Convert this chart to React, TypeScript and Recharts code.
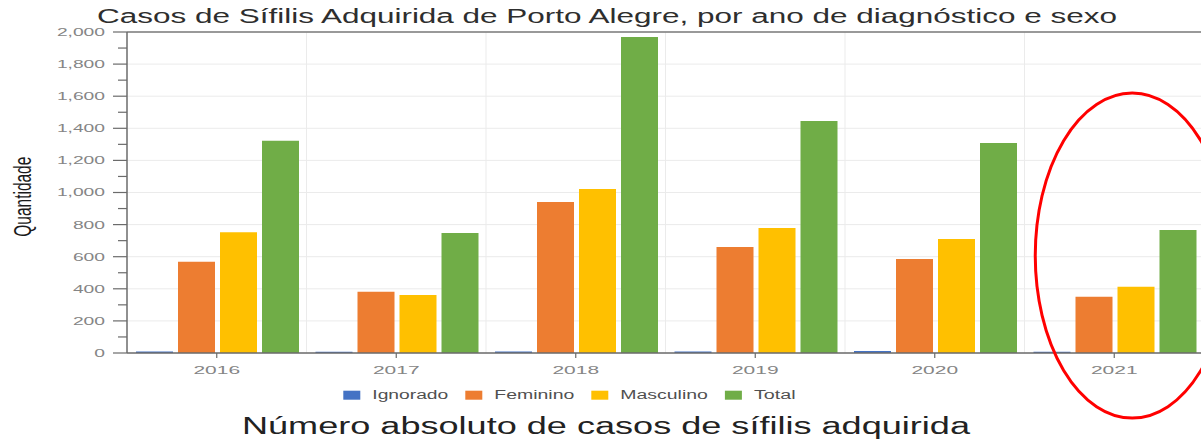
import React from 'react';
import { BarChart, Bar, XAxis, YAxis, CartesianGrid, ReferenceLine, ReferenceDot } from 'recharts';

const YEARS = ['2016', '2017', '2018', '2019', '2020', '2021'];
const IGNORADO = [9, 8, 9, 9, 12, 8];
const FEMININO = [569, 382, 941, 660, 586, 351];
const MASCULINO = [752, 361, 1022, 779, 710, 413];
const TOTAL = [1323, 748, 1969, 1445, 1308, 766];
const SERIES_NAMES = ['Ignorado', 'Feminino', 'Masculino', 'Total'];
const Y_MAX = 2000;
const Y_TICKS = [0, 100, 200, 300, 400, 500, 600, 700, 800, 900, 1000, 1100, 1200, 1300, 1400, 1500, 1600, 1700, 1800, 1900, 2000];
const MAJOR_TICKS = [0, 200, 400, 600, 800, 1000, 1200, 1400, 1600, 1800, 2000];
const TITLE = 'Casos de Sífilis Adquirida de Porto Alegre, por ano de diagnóstico e sexo';
const CAPTION = 'Número absoluto de casos de sífilis adquirida';
const Y_LABEL = 'Quantidade';
const HIGHLIGHT_YEAR = '2021';
const HIGHLIGHT_VALUE = 607;

const COLORS = ['#4472C4', '#ED7D31', '#FFC000', '#70AD47'];
const KEYS = ['ignorado', 'feminino', 'masculino', 'total'];
const LEGEND_TEXT_W = [76, 80, 87.6, 41.7];
const FONT = '"Liberation Sans", Arial, sans-serif';

const data = YEARS.map((y, i) => ({
  year: y,
  ignorado: IGNORADO[i],
  feminino: FEMININO[i],
  masculino: MASCULINO[i],
  total: TOTAL[i],
}));

const YTick = (props: any) => {
  const { x, y, payload } = props;
  const v = payload.value as number;
  const major = v % 200 === 0;
  return (
    <g>
      <line x1={x - (major ? 14 : 9)} x2={x} y1={y} y2={y} stroke="#6b6b6b" strokeWidth={1.2} />
      {major && (
        <g transform={`translate(${x - 22},${y + 3.9}) scale(1.75,1)`}>
          <text textAnchor="end" fontSize={11} fill="#858585" fontFamily={FONT}>
            {v.toLocaleString('en-US')}
          </text>
        </g>
      )}
    </g>
  );
};

const XTick = (props: any) => {
  const { x, y, payload } = props;
  return (
    <g>
      <line x1={x} x2={x} y1={y} y2={y + 5} stroke="#6b6b6b" strokeWidth={1.2} />
      <g transform={`translate(${x},${y + 21}) scale(2,1)`}>
        <text textAnchor="middle" fontSize={10.5} fill="#858585" fontFamily={FONT}>
          {payload.value}
        </text>
      </g>
    </g>
  );
};

const EllipseShape = (props: any) => {
  const { cx, cy } = props;
  if (cx == null || cy == null) return null;
  return <ellipse cx={cx + 18} cy={cy} rx={97} ry={162.5} fill="none" stroke="#ff0000" strokeWidth={3} />;
};

export default function App() {
  const n = YEARS.length;
  let lx = 343.3;
  const legendItems = SERIES_NAMES.map((name, i) => {
    const sx = lx;
    const tx = sx + 17 + 12;
    lx = tx + LEGEND_TEXT_W[i] + 17;
    return (
      <g key={name}>
        <rect x={sx} y={390.7} width={17} height={9} fill={COLORS[i]} />
        <text x={tx} y={399} fontSize={12.5} fill="#505050" fontFamily={FONT} textLength={LEGEND_TEXT_W[i]} lengthAdjust="spacingAndGlyphs">
          {name}
        </text>
      </g>
    );
  });

  return (
    <div style={{ position: 'fixed', left: 0, top: 0, width: 1201, height: 440, overflow: 'hidden', background: '#fff' }}>
      <BarChart
        width={1210}
        height={440}
        data={data}
        margin={{ top: 32, right: 6, bottom: 57, left: 0 }}
        barCategoryGap={9}
        barGap={5}
      >
        <CartesianGrid
          stroke="#ebebeb"
          horizontalCoordinatesGenerator={(p: any) =>
            MAJOR_TICKS.map((v) => p.offset.top + p.offset.height * (1 - v / Y_MAX))
          }
          verticalCoordinatesGenerator={(p: any) =>
            YEARS.map((_, i) => p.offset.left + ((i + 1) * p.offset.width) / n)
          }
        />
        <XAxis
          dataKey="year"
          interval={0}
          height={30}
          tickSize={0}
          tickMargin={0}
          tickLine={false}
          axisLine={{ stroke: '#6b6b6b', strokeWidth: 1.5 }}
          tick={(p: any) => <XTick {...p} />}
        />
        <YAxis
          type="number"
          domain={[0, Y_MAX]}
          ticks={Y_TICKS}
          interval={0}
          width={127}
          tickSize={0}
          tickMargin={0}
          tickLine={false}
          axisLine={{ stroke: '#6b6b6b', strokeWidth: 1.5 }}
          tick={(p: any) => <YTick {...p} />}
        />
        <ReferenceLine y={Y_MAX} stroke="#7a7a7a" strokeWidth={1.5} />
        {KEYS.map((k, i) => (
          <Bar key={k} dataKey={k} name={SERIES_NAMES[i]} fill={COLORS[i]} isAnimationActive={false} />
        ))}
        <ReferenceDot x={HIGHLIGHT_YEAR} y={HIGHLIGHT_VALUE} r={0} shape={(p: any) => <EllipseShape {...p} />} />
      </BarChart>
      <svg width={1201} height={440} style={{ position: 'absolute', left: 0, top: 0, pointerEvents: 'none' }}>
        <text x={97} y={23.3} fontSize={19.5} fill="#2e2e2e" fontFamily={FONT} textLength={1020} lengthAdjust="spacingAndGlyphs">
          {TITLE}
        </text>
        <g transform="translate(31,196.7) scale(1.6,1) rotate(-90)">
          <text textAnchor="middle" fontSize={15.5} fill="#1a1a1a" fontFamily={FONT}>
            {Y_LABEL}
          </text>
        </g>
        {legendItems}
        <text x={242} y={434} fontSize={23} fill="#222" fontFamily={FONT} textLength={728} lengthAdjust="spacingAndGlyphs">
          {CAPTION}
        </text>
      </svg>
    </div>
  );
}
